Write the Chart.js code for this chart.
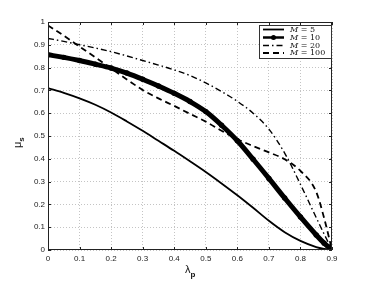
<!DOCTYPE html>
<html>
<head>
<meta charset="utf-8">
<script src="https://cdn.jsdelivr.net/npm/chart.js@4.4.0/dist/chart.umd.min.js"></script>
<style>
  body { margin: 0; background: #fff; }
  #wrap { width: 370px; height: 282px; }
</style>
</head>
<body>
<div id="wrap"><canvas id="myChart" width="370" height="282"></canvas></div>
<script>
// lambda_p samples and mu_s
var lambdaP = [0, 0.05, 0.1, 0.15, 0.2, 0.25, 0.3, 0.35, 0.4, 0.45, 0.5, 0.55, 0.6, 0.65, 0.7, 0.75, 0.8, 0.85, 0.875, 0.9];
var muM5   = [0.71, 0.689, 0.665, 0.637, 0.603, 0.564, 0.523, 0.479, 0.435, 0.389, 0.342, 0.292, 0.24, 0.185, 0.128, 0.078, 0.04, 0.013, 0.005, 0];
var muM10  = [0.856, 0.845, 0.831, 0.815, 0.798, 0.776, 0.749, 0.719, 0.687, 0.651, 0.607, 0.547, 0.479, 0.398, 0.314, 0.228, 0.145, 0.066, 0.03, 0];
var muM20  = [0.928, 0.915, 0.9, 0.886, 0.87, 0.851, 0.831, 0.811, 0.79, 0.765, 0.733, 0.695, 0.652, 0.6, 0.53, 0.425, 0.288, 0.142, 0.07, 0];
var muM100 = [0.985, 0.94, 0.892, 0.845, 0.797, 0.748, 0.702, 0.665, 0.632, 0.597, 0.563, 0.523, 0.486, 0.456, 0.428, 0.398, 0.347, 0.255, 0.14, 0];
var seriesNames = ['5', '10', '20', '100'];
var xTicks = [0, 0.1, 0.2, 0.3, 0.4, 0.5, 0.6, 0.7, 0.8, 0.9];
var yTicks = [0, 0.1, 0.2, 0.3, 0.4, 0.5, 0.6, 0.7, 0.8, 0.9, 1];

function pts(ys) {
  return lambdaP.map(function(x, i) { return {x: x, y: ys[i]}; });
}
function fmt(v) { return String(+(+v).toFixed(1)); }

var tickFont = {family: 'Liberation Sans', size: 8};

// box, inner ticks, axis titles and legend, matlab style
var framePlugin = {
  id: 'frame',
  afterDraw: function(chart) {
    var a = chart.chartArea, c = chart.ctx, sx = chart.scales.x, sy = chart.scales.y;
    c.save();
    c.strokeStyle = '#222';
    c.lineWidth = 1;
    c.setLineDash([]);
    c.strokeRect(a.left + 0.5, a.top + 0.5, a.right - a.left - 1, a.bottom - a.top - 1);
    c.beginPath();
    xTicks.forEach(function(v) {
      var px = Math.round(sx.getPixelForValue(v)) + 0.5;
      c.moveTo(px, a.bottom); c.lineTo(px, a.bottom - 3);
      c.moveTo(px, a.top); c.lineTo(px, a.top + 3);
    });
    yTicks.forEach(function(v) {
      var py = Math.round(sy.getPixelForValue(v)) + 0.5;
      c.moveTo(a.left, py); c.lineTo(a.left + 3, py);
      c.moveTo(a.right, py); c.lineTo(a.right - 3, py);
    });
    c.stroke();

    // axis titles
    c.fillStyle = '#111';
    c.textBaseline = 'alphabetic';
    c.textAlign = 'left';
    c.font = '11px "Liberation Sans"';
    var wl = c.measureText('λ').width;
    c.fillText('λ', 185, 273);
    c.font = 'bold 8px "Liberation Sans"';
    c.fillText('p', 185 + wl, 277);

    c.save();
    c.translate(21, 140);
    c.rotate(-Math.PI / 2);
    c.font = '11px "Liberation Sans"';
    var wm = c.measureText('μ').width;
    c.fillText('μ', -8, 0);
    c.font = 'bold 8px "Liberation Sans"';
    c.fillText('s', -8 + wm, 3);
    c.restore();

    // legend
    var bx = 259, by = 25, bw = 72, bh = 33;
    c.fillStyle = '#fff';
    c.fillRect(bx, by, bw, bh);
    c.strokeStyle = '#333';
    c.strokeRect(bx + 0.5, by + 0.5, bw, bh);
    var rows = [29.5, 37.5, 45.5, 53];
    chart.data.datasets.forEach(function(ds, i) {
      var y = rows[i];
      c.strokeStyle = '#000';
      c.lineWidth = i === 1 ? 2.5 : ds.borderWidth;
      c.setLineDash(ds.borderDash || []);
      c.beginPath();
      c.moveTo(263, y); c.lineTo(284, y);
      c.stroke();
      c.setLineDash([]);
      if (ds.pointRadius > 0) {
        c.fillStyle = '#000';
        c.beginPath();
        c.arc(273.5, y, 2.5, 0, Math.PI * 2);
        c.fill();
      }
      c.fillStyle = '#111';
      c.textBaseline = 'middle';
      c.font = 'italic 8px "DejaVu Serif"';
      c.fillText('M', 290, y);
      var wM = c.measureText('M').width;
      c.font = '8px "DejaVu Serif"';
      c.fillText(' = ' + seriesNames[i], 290 + wM, y);
    });
    c.restore();
  }
};

var ctx = document.getElementById('myChart').getContext('2d');
new Chart(ctx, {
  type: 'line',
  data: {
    datasets: [{
      label: 'M = 5',
      data: pts(muM5),
      borderColor: '#000',
      borderWidth: 1.8,
      pointRadius: 0
    }, {
      label: 'M = 10',
      data: pts(muM10),
      borderColor: '#000',
      borderWidth: 5,
      pointRadius: 2.7,
      pointBackgroundColor: '#000',
      pointBorderWidth: 0
    }, {
      label: 'M = 20',
      data: pts(muM20),
      borderColor: '#000',
      borderWidth: 1.4,
      borderDash: [6, 3, 1.5, 3],
      pointRadius: 0
    }, {
      label: 'M = 100',
      data: pts(muM100),
      borderColor: '#000',
      borderWidth: 1.8,
      borderDash: [6, 4],
      pointRadius: 0
    }]
  },
  options: {
    responsive: false,
    animation: false,
    cubicInterpolationMode: 'monotone',
    layout: { padding: { left: 0, right: 38, top: 22, bottom: 0 } },
    plugins: { legend: { display: false }, tooltip: { enabled: false } },
    scales: {
      x: {
        type: 'linear', min: 0, max: 0.9,
        afterBuildTicks: function(s) { s.ticks = xTicks.map(function(v) { return {value: v}; }); },
        afterFit: function(s) { s.height = 32; },
        grid: { color: '#c4c4c4', lineWidth: 1, drawTicks: false },
        border: { display: false, dash: [1, 2] },
        ticks: { padding: 4, font: tickFont, color: '#222', maxRotation: 0, callback: fmt }
      },
      y: {
        type: 'linear', min: 0, max: 1,
        afterBuildTicks: function(s) { s.ticks = yTicks.map(function(v) { return {value: v}; }); },
        afterFit: function(s) { s.width = 48; },
        grid: { color: '#c4c4c4', lineWidth: 1, drawTicks: false },
        border: { display: false, dash: [1, 2] },
        ticks: { padding: 3, font: tickFont, color: '#222', callback: fmt }
      }
    }
  },
  plugins: [framePlugin]
});
</script>
</body>
</html>
